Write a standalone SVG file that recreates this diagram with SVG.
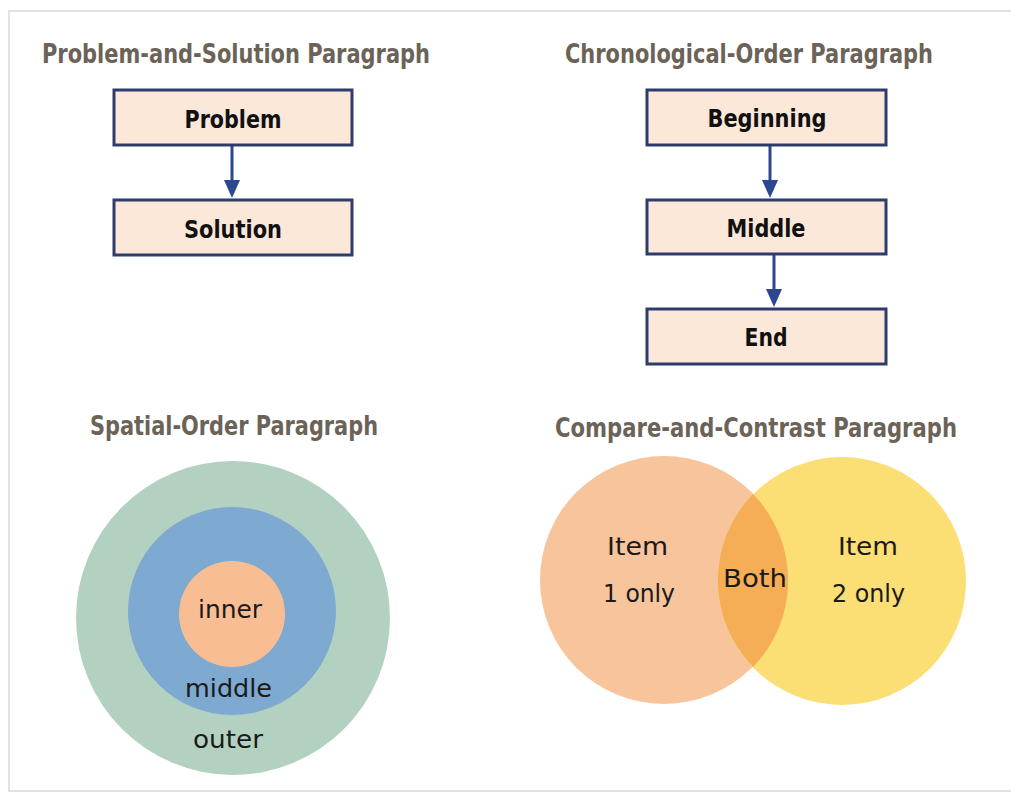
<svg xmlns="http://www.w3.org/2000/svg" width="1011" height="800" viewBox="0 0 1011 800">
<style>
.title{font-family:"Liberation Sans Narrow","DejaVu Sans Condensed","Liberation Sans",sans-serif;font-weight:bold;font-size:26px;fill:#6b6357;text-anchor:middle}
.box{fill:#fbe8d8;stroke:#2e3c6c;stroke-width:3}
.lbl{font-family:"Liberation Sans Narrow","DejaVu Sans Condensed","Liberation Sans",sans-serif;font-weight:bold;font-size:25px;fill:#111;text-anchor:middle}
.hand{font-family:"DejaVu Sans","Noto Sans",sans-serif;font-size:25px;fill:#1a1a1a}
.conn{stroke:#2a4790;stroke-width:3;fill:none}
.head{fill:#2a4790}
</style>
<rect x="0" y="0" width="1011" height="800" fill="#ffffff"/>
<rect x="9" y="11" width="1010" height="780" fill="none" stroke="#e2e2e2" stroke-width="2"/>

<text class="title" x="236" y="63" textLength="388" lengthAdjust="spacingAndGlyphs">Problem-and-Solution Paragraph</text>
<text class="title" x="749" y="63" textLength="368" lengthAdjust="spacingAndGlyphs">Chronological-Order Paragraph</text>
<text class="title" x="234" y="435" textLength="288" lengthAdjust="spacingAndGlyphs">Spatial-Order Paragraph</text>
<text class="title" x="756" y="437" textLength="402" lengthAdjust="spacingAndGlyphs">Compare-and-Contrast Paragraph</text>

<g id="connectors">
<path class="conn" d="M232,146 L232,181"/>
<path class="head" d="M224,180 L240,180 L232,198 Z"/>
<path class="conn" d="M770,146 L770,181"/>
<path class="head" d="M762,180 L778,180 L770,198 Z"/>
<path class="conn" d="M774,254 L774,290"/>
<path class="head" d="M766,289 L782,289 L774,307 Z"/>
</g>

<g id="problem">
<rect class="box" x="114" y="90" width="238" height="55"/>
<text class="lbl" x="233" y="128" textLength="97" lengthAdjust="spacingAndGlyphs">Problem</text>
</g>
<g id="solution">
<rect class="box" x="114" y="200" width="238" height="55"/>
<text class="lbl" x="233" y="238" textLength="98" lengthAdjust="spacingAndGlyphs">Solution</text>
</g>
<g id="beginning">
<rect class="box" x="647" y="90" width="239" height="55"/>
<text class="lbl" x="767" y="127" textLength="119" lengthAdjust="spacingAndGlyphs">Beginning</text>
</g>
<g id="middle-box">
<rect class="box" x="647" y="200" width="239" height="54"/>
<text class="lbl" x="766" y="237" textLength="79" lengthAdjust="spacingAndGlyphs">Middle</text>
</g>
<g id="end">
<rect class="box" x="647" y="309" width="239" height="55"/>
<text class="lbl" x="766" y="346" textLength="43" lengthAdjust="spacingAndGlyphs">End</text>
</g>

<g id="spatial">
<circle cx="233" cy="618" r="157" fill="#b3d1c0"/>
<circle cx="232" cy="611" r="104" fill="#7ea9d1"/>
<circle cx="232" cy="614" r="53" fill="#f8bd92"/>
<text class="hand" x="198" y="618" textLength="64" lengthAdjust="spacingAndGlyphs">inner</text>
<text class="hand" x="185" y="697" textLength="87" lengthAdjust="spacingAndGlyphs">middle</text>
<text class="hand" x="193" y="748" textLength="70" lengthAdjust="spacingAndGlyphs">outer</text>
</g>

<g id="venn">
<circle cx="664" cy="580" r="124" fill="#f8c49c"/>
<circle cx="842" cy="581" r="124" fill="#fbde74"/>
<path d="M753,494 A124,124 0 0 1 753,667 A124,124 0 0 1 753,494 Z" fill="#f5ae55"/>
<text class="hand" x="607" y="555" textLength="61" lengthAdjust="spacingAndGlyphs">Item</text>
<text class="hand" x="603" y="602" textLength="72" lengthAdjust="spacingAndGlyphs">1 only</text>
<text class="hand" x="723" y="587" textLength="64" lengthAdjust="spacingAndGlyphs">Both</text>
<text class="hand" x="838" y="555" textLength="60" lengthAdjust="spacingAndGlyphs">Item</text>
<text class="hand" x="832" y="602" textLength="73" lengthAdjust="spacingAndGlyphs">2 only</text>
</g>
</svg>
